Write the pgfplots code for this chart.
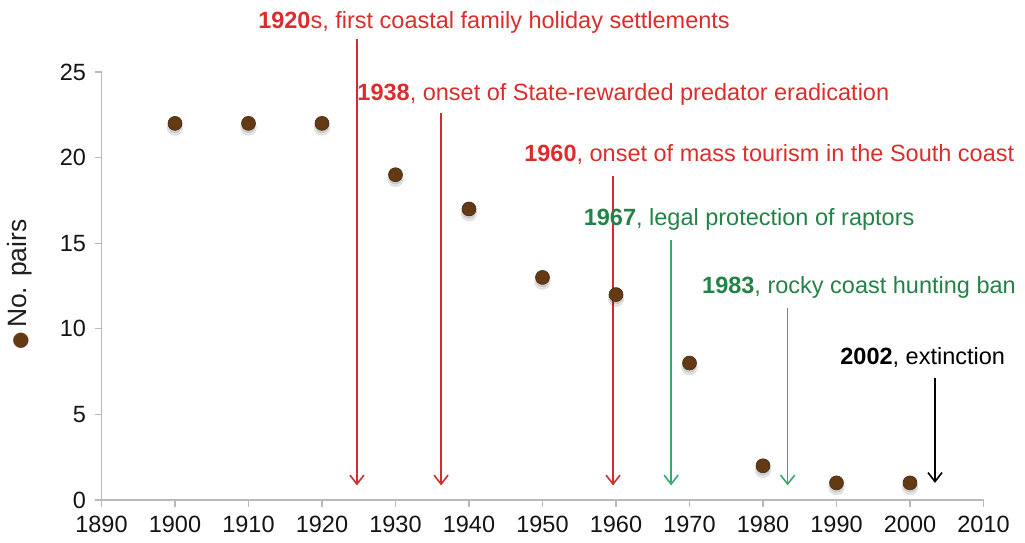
\documentclass[border=0pt]{standalone}
\usepackage{fontspec}
\setmainfont{Liberation Sans}
\newfontfamily\annfont{Liberation Sans}
\usepackage{pgfplots}
\pgfplotsset{compat=1.18}
\usetikzlibrary{arrows.meta}
\definecolor{txtred}{RGB}{220,45,45}
\definecolor{arrred}{RGB}{210,45,45}
\definecolor{txtgreen}{RGB}{35,130,70}
\definecolor{arrgreen}{RGB}{55,170,110}
\definecolor{markbrown}{RGB}{100,58,20}
\definecolor{markedge}{RGB}{70,45,25}
\definecolor{axgray}{RGB}{185,185,185}
\begin{document}
\begin{tikzpicture}
\path[use as bounding box] (-101.5pt,-43pt) rectangle (923.5pt,500pt);
\begin{axis}[
  at={(0pt,0pt)}, anchor=origin,
  scale only axis, width=882pt, height=428pt,
  xmin=1890, xmax=2010, ymin=0, ymax=25,
  axis x line=bottom, axis y line=left,
  axis line style={-, axgray, line width=1.3pt},
  xtick={1890,1900,...,2010}, ytick={0,5,...,25},
  tick align=outside, major tick length=7pt,
  tick style={axgray, line width=1.3pt},
  x tick label style={font=\fontsize{23.5}{25}\selectfont, text={rgb,255:red,20;green,20;blue,20}, yshift=-6pt},
  y tick label style={font=\fontsize{23.5}{25}\selectfont, text={rgb,255:red,20;green,20;blue,20}, xshift=-5pt},
  /pgf/number format/assume math mode=true,
  /pgf/number format/1000 sep={},
  clip=false,
]
% marker shadows
\addplot[only marks, mark=*, mark size=8pt, mark options={fill=black, draw=none, opacity=0.10, yshift=-4pt}] coordinates {
(1900,22) (1910,22) (1920,22) (1930,19) (1940,17) (1950,13) (1960,12) (1970,8) (1980,2) (1990,1) (2000,1)};
\addplot[only marks, mark=*, mark size=6.5pt, mark options={fill=black, draw=none, opacity=0.10, yshift=-3pt}] coordinates {
(1900,22) (1910,22) (1920,22) (1930,19) (1940,17) (1950,13) (1960,12) (1970,8) (1980,2) (1990,1) (2000,1)};
% arrows
\addplot[arrred, line width=1.6pt, -{Straight Barb[length=9pt,width=14pt]}] coordinates {(1924.75,26.9) (1924.75,0.85)};
\addplot[arrred, line width=1.6pt, -{Straight Barb[length=9pt,width=14pt]}] coordinates {(1936.2,22.6) (1936.2,0.85)};
\addplot[arrred, line width=1.6pt, -{Straight Barb[length=9pt,width=14pt]}] coordinates {(1959.6,18.9) (1959.6,0.85)};
\addplot[arrgreen, line width=1.6pt, -{Straight Barb[length=9pt,width=14pt]}] coordinates {(1967.5,15.2) (1967.5,0.85)};
\addplot[arrgreen, line width=1.6pt, -{Straight Barb[length=9pt,width=14pt]}] coordinates {(1983.35,11.2) (1983.35,0.85)};
\addplot[black, line width=1.6pt, -{Straight Barb[length=9pt,width=14pt]}] coordinates {(2003.4,7.1) (2003.4,1.0)};
% data
\addplot[only marks, mark=*, mark size=7pt, mark options={fill=markbrown, draw=markedge, line width=0.6pt}] coordinates {
(1900,22) (1910,22) (1920,22) (1930,19) (1940,17) (1950,13) (1960,12) (1970,8) (1980,2) (1990,1) (2000,1)};
% annotations
\tikzset{ann/.style={anchor=west, inner sep=0pt, font=\annfont\fontsize{23.5}{26}\selectfont}}
\node[ann, text=txtred] at (axis cs:1911.3,27.9) {\textbf{1920}s, first coastal family holiday settlements};
\node[ann, text=txtred] at (axis cs:1924.8,23.7) {\textbf{1938}, onset of State-rewarded predator eradication};
\node[ann, text=txtred] at (axis cs:1947.5,20.2) {\textbf{1960}, onset of mass tourism in the South coast};
\node[ann, text=txtgreen] at (axis cs:1955.6,16.4) {\textbf{1967}, legal protection of raptors};
\node[ann, text=txtgreen] at (axis cs:1971.7,12.4) {\textbf{1983}, rocky coast hunting ban};
\node[ann, text=black] at (axis cs:1990.5,8.35) {\textbf{2002}, extinction};
\end{axis}
\node[rotate=90, anchor=west, inner sep=0pt, font=\fontsize{26.5}{28}\selectfont, text={rgb,255:red,30;green,30;blue,30}] at (-82pt,150pt) {\textcolor{markbrown}{\fontspec{DejaVu Sans}\fontsize{20}{22}\selectfont ●}\,No. pairs};
\end{tikzpicture}
\end{document}
